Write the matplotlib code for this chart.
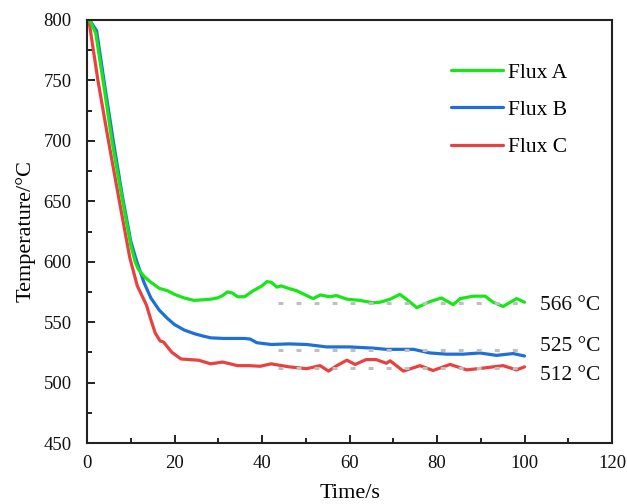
import matplotlib
matplotlib.use("Agg")
import matplotlib.pyplot as plt
from matplotlib.ticker import MultipleLocator

plt.rcParams['font.family'] = ['Liberation Serif', 'DejaVu Serif']
plt.rcParams['mathtext.fontset'] = 'stix'

# ---- data ----
time_a = [0, 0.6, 2, 4, 5.7, 8, 10, 11, 11.7, 13, 14.6, 16.5, 18.4, 20, 22.2, 24.5, 26.5, 28.3,
          29.8, 31, 32.1, 33.3, 34.4, 36, 38, 40, 41.1, 42.1, 43.4, 44.4, 46, 47.9, 50.2, 51.7,
          53.3, 55.5, 57, 59.4, 62.4, 65.4, 67, 69.3, 71.5, 73, 75.4, 78.4, 81, 83.7, 85.3,
          88.3, 91, 92.8, 95.1, 98.2, 100]
temp_a = [800, 800, 789, 742, 700, 653, 614, 600, 594, 588, 583, 578, 576, 573, 570, 568, 568.5, 569,
          570, 572, 575, 574, 571, 571, 576, 580, 583.5, 583, 579, 580, 578, 576, 572, 569.5,
          572.5, 571, 572, 569, 568, 566, 566.5, 569, 573, 569, 562, 567, 570, 564.5, 569.5,
          571.5, 571.5, 566.5, 563, 569.5, 566.5]

time_b = [0, 0.6, 2.2, 4, 6, 8, 10, 11.3, 13, 14.6, 16.5, 18.4, 20, 22.2, 24.5, 26.5, 28.3, 31.4,
          36, 37.3, 38.8, 42.1, 46.2, 50.2, 54.8, 60, 65.4, 68.4, 72, 74.6, 78.4, 82.2, 86,
          89.8, 93.6, 97.4, 100]
temp_b = [800, 800, 791, 747, 700, 656, 617, 601, 583, 570, 560, 553, 548, 543.5, 540.5, 538.5, 537, 536.5,
          536.5, 536, 533, 531.5, 532, 531.5, 529.5, 529.5, 528.5, 527.5, 527.5, 527.5, 524.5, 523.5, 523.5,
          524.5, 522.5, 524, 522]

time_c = [0, 0.5, 2.5, 4.9, 7.5, 9.8, 11.5, 13.6, 14.6, 15.6, 16.7, 17.5, 19.4, 21.5, 23.5, 25.5,
          28.3, 31, 34.4, 37, 39.6, 42.1, 46.2, 50.2, 53.3, 55.2, 57.1, 59.4, 61.3, 63.8, 66.1,
          68.4, 69.3, 72.3, 76.1, 79.1, 83, 86.8, 90.6, 95.1, 98.2, 100]
temp_c = [800, 798, 750, 700, 648, 603, 580, 564, 552, 541, 534.5, 533.5, 525, 519.5, 519, 518.5,
          515.5, 517, 514, 514, 513.5, 515.5, 513, 511.5, 514, 509.5, 514, 518.5, 515, 519, 519,
          516, 518, 509.5, 514, 510, 515, 510.5, 512, 514, 510.5, 513]

avg_levels = [566, 527, 512]
avg_labels = ['566 °C', '525 °C', '512 °C']
label_y = [563.5, 529.5, 505.5]
avg_start, avg_end = 43.7, 99.6

series_names = ['Flux A', 'Flux B', 'Flux C']
colors = ['#17E617', '#1F6FD8', '#E8413F']

xticks = [0, 20, 40, 60, 80, 100, 120]
yticks = [450, 500, 550, 600, 650, 700, 750, 800]

# ---- figure ----
fig = plt.figure(figsize=(6.27, 5.04), dpi=100)
ax = fig.add_axes([87/627, 1-443/504, (612-87)/627, (443-20)/504])

for t, v, c, n, z in zip([time_a, time_b, time_c], [temp_a, temp_b, temp_c], colors, series_names,
                         [2.2, 2.0, 2.1]):
    ax.plot(t, v, color=c, lw=2.3, label=n, solid_capstyle='round', zorder=z)

for lvl in avg_levels:
    ax.plot([avg_start, avg_end], [lvl, lvl], color='#bfbfbf', lw=2.2,
            dashes=(1.6, 4.3), zorder=3)

for txt, y in zip(avg_labels, label_y):
    ax.text(103.5, y, txt, fontsize=15.5, va='center', ha='left', color='#111111')

ax.set_xlim(0, 120)
ax.set_ylim(450, 800)
ax.set_xticks(xticks)
ax.set_yticks(yticks)
ax.xaxis.set_minor_locator(MultipleLocator(10))
ax.yaxis.set_minor_locator(MultipleLocator(25))
ax.tick_params(which='both', direction='in', top=False, right=False, labelsize=13.5,
               width=1.4, colors='#222222', labelcolor='#111111')
ax.tick_params(which='major', length=6)
ax.tick_params(which='minor', length=3.5)
ax.tick_params(axis='x', which='major', pad=9)
ax.tick_params(axis='y', which='major', pad=11)
for s in ax.spines.values():
    s.set_linewidth(1.5)
    s.set_color('#222222')

ax.set_xlabel('Time/s', fontsize=16, labelpad=8)
ax.set_ylabel('Temperature/°C', fontsize=16, labelpad=6)

leg = ax.legend(loc='upper right', bbox_to_anchor=(0.952, 0.945), frameon=False, fontsize=15.5,
                handlelength=2.4, handletextpad=0.25, labelspacing=0.8)

fig.savefig('out.png', dpi=100)
